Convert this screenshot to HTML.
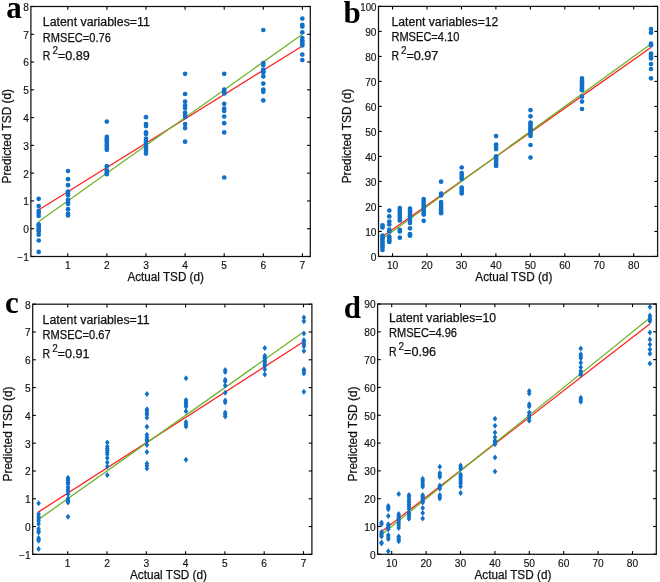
<!DOCTYPE html>
<html><head><meta charset="utf-8"><style>
html,body{margin:0;padding:0;background:#fff;}
svg{display:block;}
.t{font-family:"Liberation Sans", sans-serif;font-size:10.2px;fill:#111;stroke:#111;stroke-width:0.15px;}
.l{font-family:"Liberation Sans", sans-serif;font-size:12px;fill:#111;stroke:#111;stroke-width:0.25px;}
.s{font-family:"Liberation Sans", sans-serif;font-size:10px;fill:#111;stroke:#111;stroke-width:0.2px;}
.p{font-family:"Liberation Serif", serif;font-weight:bold;font-size:31px;fill:#000;}
</style></head><body>
<svg width="660" height="582" viewBox="0 0 660 582">
<rect width="660" height="582" fill="#fff"/>
<line x1="38.48" y1="210.00" x2="302.40" y2="45.93" stroke="#ff1f1f" stroke-width="1.3"/>
<line x1="38.48" y1="221.78" x2="302.40" y2="34.26" stroke="#6fb52a" stroke-width="1.3"/>
<circle cx="38.7" cy="198.8" r="2.35" fill="#1170c8"/>
<circle cx="38.7" cy="206.1" r="2.35" fill="#1170c8"/>
<circle cx="38.7" cy="210.9" r="2.35" fill="#1170c8"/>
<circle cx="38.7" cy="213.0" r="2.35" fill="#1170c8"/>
<circle cx="38.7" cy="216.0" r="2.35" fill="#1170c8"/>
<circle cx="38.7" cy="224.3" r="2.35" fill="#1170c8"/>
<circle cx="38.7" cy="226.0" r="2.35" fill="#1170c8"/>
<circle cx="38.7" cy="228.1" r="2.35" fill="#1170c8"/>
<circle cx="38.7" cy="229.8" r="2.35" fill="#1170c8"/>
<circle cx="38.7" cy="231.5" r="2.35" fill="#1170c8"/>
<circle cx="38.7" cy="234.7" r="2.35" fill="#1170c8"/>
<circle cx="38.7" cy="240.5" r="2.35" fill="#1170c8"/>
<circle cx="38.7" cy="251.9" r="2.35" fill="#1170c8"/>
<circle cx="68.0" cy="171.0" r="2.35" fill="#1170c8"/>
<circle cx="68.0" cy="179.2" r="2.35" fill="#1170c8"/>
<circle cx="68.0" cy="185.2" r="2.35" fill="#1170c8"/>
<circle cx="68.0" cy="191.5" r="2.35" fill="#1170c8"/>
<circle cx="68.0" cy="193.4" r="2.35" fill="#1170c8"/>
<circle cx="68.0" cy="195.3" r="2.35" fill="#1170c8"/>
<circle cx="68.0" cy="199.9" r="2.35" fill="#1170c8"/>
<circle cx="68.0" cy="202.7" r="2.35" fill="#1170c8"/>
<circle cx="68.0" cy="203.9" r="2.35" fill="#1170c8"/>
<circle cx="68.0" cy="209.2" r="2.35" fill="#1170c8"/>
<circle cx="68.0" cy="213.5" r="2.35" fill="#1170c8"/>
<circle cx="68.0" cy="215.5" r="2.35" fill="#1170c8"/>
<circle cx="106.8" cy="121.6" r="2.35" fill="#1170c8"/>
<circle cx="106.8" cy="136.9" r="2.35" fill="#1170c8"/>
<circle cx="106.8" cy="139.2" r="2.35" fill="#1170c8"/>
<circle cx="106.8" cy="141.2" r="2.35" fill="#1170c8"/>
<circle cx="106.8" cy="143.8" r="2.35" fill="#1170c8"/>
<circle cx="106.8" cy="145.5" r="2.35" fill="#1170c8"/>
<circle cx="106.8" cy="147.8" r="2.35" fill="#1170c8"/>
<circle cx="106.8" cy="149.8" r="2.35" fill="#1170c8"/>
<circle cx="106.8" cy="166.2" r="2.35" fill="#1170c8"/>
<circle cx="106.8" cy="170.4" r="2.35" fill="#1170c8"/>
<circle cx="106.8" cy="172.2" r="2.35" fill="#1170c8"/>
<circle cx="106.8" cy="174.2" r="2.35" fill="#1170c8"/>
<circle cx="146.0" cy="117.2" r="2.35" fill="#1170c8"/>
<circle cx="146.0" cy="124.0" r="2.35" fill="#1170c8"/>
<circle cx="146.0" cy="126.1" r="2.35" fill="#1170c8"/>
<circle cx="146.0" cy="132.3" r="2.35" fill="#1170c8"/>
<circle cx="146.0" cy="134.0" r="2.35" fill="#1170c8"/>
<circle cx="146.0" cy="138.7" r="2.35" fill="#1170c8"/>
<circle cx="146.0" cy="141.2" r="2.35" fill="#1170c8"/>
<circle cx="146.0" cy="143.8" r="2.35" fill="#1170c8"/>
<circle cx="146.0" cy="146.4" r="2.35" fill="#1170c8"/>
<circle cx="146.0" cy="149.0" r="2.35" fill="#1170c8"/>
<circle cx="146.0" cy="150.7" r="2.35" fill="#1170c8"/>
<circle cx="146.0" cy="153.6" r="2.35" fill="#1170c8"/>
<circle cx="185.1" cy="73.8" r="2.35" fill="#1170c8"/>
<circle cx="185.1" cy="94.0" r="2.35" fill="#1170c8"/>
<circle cx="185.1" cy="101.7" r="2.35" fill="#1170c8"/>
<circle cx="185.1" cy="105.5" r="2.35" fill="#1170c8"/>
<circle cx="185.1" cy="108.0" r="2.35" fill="#1170c8"/>
<circle cx="185.1" cy="112.5" r="2.35" fill="#1170c8"/>
<circle cx="185.1" cy="115.0" r="2.35" fill="#1170c8"/>
<circle cx="185.1" cy="117.0" r="2.35" fill="#1170c8"/>
<circle cx="185.1" cy="124.0" r="2.35" fill="#1170c8"/>
<circle cx="185.1" cy="128.1" r="2.35" fill="#1170c8"/>
<circle cx="185.1" cy="141.7" r="2.35" fill="#1170c8"/>
<circle cx="224.2" cy="73.8" r="2.35" fill="#1170c8"/>
<circle cx="224.2" cy="89.5" r="2.35" fill="#1170c8"/>
<circle cx="224.2" cy="91.5" r="2.35" fill="#1170c8"/>
<circle cx="224.2" cy="93.5" r="2.35" fill="#1170c8"/>
<circle cx="224.2" cy="103.8" r="2.35" fill="#1170c8"/>
<circle cx="224.2" cy="108.5" r="2.35" fill="#1170c8"/>
<circle cx="224.2" cy="111.0" r="2.35" fill="#1170c8"/>
<circle cx="224.2" cy="116.5" r="2.35" fill="#1170c8"/>
<circle cx="224.2" cy="123.2" r="2.35" fill="#1170c8"/>
<circle cx="224.2" cy="132.4" r="2.35" fill="#1170c8"/>
<circle cx="224.2" cy="177.5" r="2.35" fill="#1170c8"/>
<circle cx="263.3" cy="30.0" r="2.35" fill="#1170c8"/>
<circle cx="263.3" cy="63.0" r="2.35" fill="#1170c8"/>
<circle cx="263.3" cy="65.0" r="2.35" fill="#1170c8"/>
<circle cx="263.3" cy="69.5" r="2.35" fill="#1170c8"/>
<circle cx="263.3" cy="71.2" r="2.35" fill="#1170c8"/>
<circle cx="263.3" cy="72.4" r="2.35" fill="#1170c8"/>
<circle cx="263.3" cy="76.4" r="2.35" fill="#1170c8"/>
<circle cx="263.3" cy="83.6" r="2.35" fill="#1170c8"/>
<circle cx="263.3" cy="89.6" r="2.35" fill="#1170c8"/>
<circle cx="263.3" cy="91.8" r="2.35" fill="#1170c8"/>
<circle cx="263.3" cy="100.4" r="2.35" fill="#1170c8"/>
<circle cx="302.3" cy="18.6" r="2.35" fill="#1170c8"/>
<circle cx="302.3" cy="24.9" r="2.35" fill="#1170c8"/>
<circle cx="302.3" cy="26.6" r="2.35" fill="#1170c8"/>
<circle cx="302.3" cy="32.3" r="2.35" fill="#1170c8"/>
<circle cx="302.3" cy="38.1" r="2.35" fill="#1170c8"/>
<circle cx="302.3" cy="40.4" r="2.35" fill="#1170c8"/>
<circle cx="302.3" cy="42.1" r="2.35" fill="#1170c8"/>
<circle cx="302.3" cy="43.8" r="2.35" fill="#1170c8"/>
<circle cx="302.3" cy="45.5" r="2.35" fill="#1170c8"/>
<circle cx="302.3" cy="54.6" r="2.35" fill="#1170c8"/>
<circle cx="302.3" cy="60.1" r="2.35" fill="#1170c8"/>
<rect x="30.9" y="6.5" width="279.40000000000003" height="250.0" fill="none" stroke="#111" stroke-width="1.25"/>
<line x1="67.80" y1="256.5" x2="67.80" y2="253.3" stroke="#000" stroke-width="1.1"/>
<line x1="67.80" y1="6.5" x2="67.80" y2="9.7" stroke="#000" stroke-width="1.1"/>
<line x1="106.90" y1="256.5" x2="106.90" y2="253.3" stroke="#000" stroke-width="1.1"/>
<line x1="106.90" y1="6.5" x2="106.90" y2="9.7" stroke="#000" stroke-width="1.1"/>
<line x1="146.00" y1="256.5" x2="146.00" y2="253.3" stroke="#000" stroke-width="1.1"/>
<line x1="146.00" y1="6.5" x2="146.00" y2="9.7" stroke="#000" stroke-width="1.1"/>
<line x1="185.10" y1="256.5" x2="185.10" y2="253.3" stroke="#000" stroke-width="1.1"/>
<line x1="185.10" y1="6.5" x2="185.10" y2="9.7" stroke="#000" stroke-width="1.1"/>
<line x1="224.20" y1="256.5" x2="224.20" y2="253.3" stroke="#000" stroke-width="1.1"/>
<line x1="224.20" y1="6.5" x2="224.20" y2="9.7" stroke="#000" stroke-width="1.1"/>
<line x1="263.30" y1="256.5" x2="263.30" y2="253.3" stroke="#000" stroke-width="1.1"/>
<line x1="263.30" y1="6.5" x2="263.30" y2="9.7" stroke="#000" stroke-width="1.1"/>
<line x1="302.40" y1="256.5" x2="302.40" y2="253.3" stroke="#000" stroke-width="1.1"/>
<line x1="302.40" y1="6.5" x2="302.40" y2="9.7" stroke="#000" stroke-width="1.1"/>
<line x1="30.9" y1="256.50" x2="34.1" y2="256.50" stroke="#000" stroke-width="1.1"/>
<line x1="310.3" y1="256.50" x2="307.1" y2="256.50" stroke="#000" stroke-width="1.1"/>
<line x1="30.9" y1="228.72" x2="34.1" y2="228.72" stroke="#000" stroke-width="1.1"/>
<line x1="310.3" y1="228.72" x2="307.1" y2="228.72" stroke="#000" stroke-width="1.1"/>
<line x1="30.9" y1="200.94" x2="34.1" y2="200.94" stroke="#000" stroke-width="1.1"/>
<line x1="310.3" y1="200.94" x2="307.1" y2="200.94" stroke="#000" stroke-width="1.1"/>
<line x1="30.9" y1="173.16" x2="34.1" y2="173.16" stroke="#000" stroke-width="1.1"/>
<line x1="310.3" y1="173.16" x2="307.1" y2="173.16" stroke="#000" stroke-width="1.1"/>
<line x1="30.9" y1="145.38" x2="34.1" y2="145.38" stroke="#000" stroke-width="1.1"/>
<line x1="310.3" y1="145.38" x2="307.1" y2="145.38" stroke="#000" stroke-width="1.1"/>
<line x1="30.9" y1="117.60" x2="34.1" y2="117.60" stroke="#000" stroke-width="1.1"/>
<line x1="310.3" y1="117.60" x2="307.1" y2="117.60" stroke="#000" stroke-width="1.1"/>
<line x1="30.9" y1="89.82" x2="34.1" y2="89.82" stroke="#000" stroke-width="1.1"/>
<line x1="310.3" y1="89.82" x2="307.1" y2="89.82" stroke="#000" stroke-width="1.1"/>
<line x1="30.9" y1="62.04" x2="34.1" y2="62.04" stroke="#000" stroke-width="1.1"/>
<line x1="310.3" y1="62.04" x2="307.1" y2="62.04" stroke="#000" stroke-width="1.1"/>
<line x1="30.9" y1="34.26" x2="34.1" y2="34.26" stroke="#000" stroke-width="1.1"/>
<line x1="310.3" y1="34.26" x2="307.1" y2="34.26" stroke="#000" stroke-width="1.1"/>
<line x1="30.9" y1="6.48" x2="34.1" y2="6.48" stroke="#000" stroke-width="1.1"/>
<line x1="310.3" y1="6.48" x2="307.1" y2="6.48" stroke="#000" stroke-width="1.1"/>
<line x1="382.22" y1="236.70" x2="650.92" y2="47.41" stroke="#ff1f1f" stroke-width="1.3"/>
<line x1="382.22" y1="238.95" x2="650.92" y2="43.91" stroke="#6fb52a" stroke-width="1.3"/>
<circle cx="382.5" cy="225.3" r="2.35" fill="#1170c8"/>
<circle cx="382.5" cy="227.5" r="2.35" fill="#1170c8"/>
<circle cx="382.5" cy="235.5" r="2.35" fill="#1170c8"/>
<circle cx="382.5" cy="237.5" r="2.35" fill="#1170c8"/>
<circle cx="382.5" cy="239.5" r="2.35" fill="#1170c8"/>
<circle cx="382.5" cy="241.5" r="2.35" fill="#1170c8"/>
<circle cx="382.5" cy="243.5" r="2.35" fill="#1170c8"/>
<circle cx="382.5" cy="245.5" r="2.35" fill="#1170c8"/>
<circle cx="382.5" cy="247.5" r="2.35" fill="#1170c8"/>
<circle cx="382.5" cy="250.0" r="2.35" fill="#1170c8"/>
<circle cx="389.3" cy="210.6" r="2.35" fill="#1170c8"/>
<circle cx="389.3" cy="216.4" r="2.35" fill="#1170c8"/>
<circle cx="389.3" cy="221.5" r="2.35" fill="#1170c8"/>
<circle cx="389.3" cy="224.5" r="2.35" fill="#1170c8"/>
<circle cx="389.3" cy="229.5" r="2.35" fill="#1170c8"/>
<circle cx="389.3" cy="231.5" r="2.35" fill="#1170c8"/>
<circle cx="389.3" cy="236.5" r="2.35" fill="#1170c8"/>
<circle cx="389.3" cy="238.5" r="2.35" fill="#1170c8"/>
<circle cx="389.3" cy="240.5" r="2.35" fill="#1170c8"/>
<circle cx="389.3" cy="242.0" r="2.35" fill="#1170c8"/>
<circle cx="399.8" cy="208.0" r="2.35" fill="#1170c8"/>
<circle cx="399.8" cy="210.0" r="2.35" fill="#1170c8"/>
<circle cx="399.8" cy="212.0" r="2.35" fill="#1170c8"/>
<circle cx="399.8" cy="214.0" r="2.35" fill="#1170c8"/>
<circle cx="399.8" cy="216.0" r="2.35" fill="#1170c8"/>
<circle cx="399.8" cy="218.0" r="2.35" fill="#1170c8"/>
<circle cx="399.8" cy="220.5" r="2.35" fill="#1170c8"/>
<circle cx="399.8" cy="229.8" r="2.35" fill="#1170c8"/>
<circle cx="399.8" cy="231.5" r="2.35" fill="#1170c8"/>
<circle cx="399.8" cy="237.7" r="2.35" fill="#1170c8"/>
<circle cx="410.0" cy="208.5" r="2.35" fill="#1170c8"/>
<circle cx="410.0" cy="210.5" r="2.35" fill="#1170c8"/>
<circle cx="410.0" cy="212.5" r="2.35" fill="#1170c8"/>
<circle cx="410.0" cy="214.5" r="2.35" fill="#1170c8"/>
<circle cx="410.0" cy="216.5" r="2.35" fill="#1170c8"/>
<circle cx="410.0" cy="218.5" r="2.35" fill="#1170c8"/>
<circle cx="410.0" cy="220.5" r="2.35" fill="#1170c8"/>
<circle cx="410.0" cy="223.0" r="2.35" fill="#1170c8"/>
<circle cx="410.0" cy="228.3" r="2.35" fill="#1170c8"/>
<circle cx="410.0" cy="234.2" r="2.35" fill="#1170c8"/>
<circle cx="410.0" cy="235.7" r="2.35" fill="#1170c8"/>
<circle cx="423.7" cy="199.0" r="2.35" fill="#1170c8"/>
<circle cx="423.7" cy="201.0" r="2.35" fill="#1170c8"/>
<circle cx="423.7" cy="203.0" r="2.35" fill="#1170c8"/>
<circle cx="423.7" cy="205.0" r="2.35" fill="#1170c8"/>
<circle cx="423.7" cy="207.0" r="2.35" fill="#1170c8"/>
<circle cx="423.7" cy="209.0" r="2.35" fill="#1170c8"/>
<circle cx="423.7" cy="211.0" r="2.35" fill="#1170c8"/>
<circle cx="423.7" cy="213.0" r="2.35" fill="#1170c8"/>
<circle cx="423.7" cy="214.6" r="2.35" fill="#1170c8"/>
<circle cx="423.7" cy="220.8" r="2.35" fill="#1170c8"/>
<circle cx="441.1" cy="181.7" r="2.35" fill="#1170c8"/>
<circle cx="441.1" cy="193.5" r="2.35" fill="#1170c8"/>
<circle cx="441.1" cy="195.5" r="2.35" fill="#1170c8"/>
<circle cx="441.1" cy="202.0" r="2.35" fill="#1170c8"/>
<circle cx="441.1" cy="204.0" r="2.35" fill="#1170c8"/>
<circle cx="441.1" cy="206.0" r="2.35" fill="#1170c8"/>
<circle cx="441.1" cy="208.0" r="2.35" fill="#1170c8"/>
<circle cx="441.1" cy="210.0" r="2.35" fill="#1170c8"/>
<circle cx="441.1" cy="212.0" r="2.35" fill="#1170c8"/>
<circle cx="441.1" cy="213.2" r="2.35" fill="#1170c8"/>
<circle cx="461.7" cy="167.5" r="2.35" fill="#1170c8"/>
<circle cx="461.7" cy="173.0" r="2.35" fill="#1170c8"/>
<circle cx="461.7" cy="175.0" r="2.35" fill="#1170c8"/>
<circle cx="461.7" cy="177.0" r="2.35" fill="#1170c8"/>
<circle cx="461.7" cy="179.0" r="2.35" fill="#1170c8"/>
<circle cx="461.7" cy="187.5" r="2.35" fill="#1170c8"/>
<circle cx="461.7" cy="189.5" r="2.35" fill="#1170c8"/>
<circle cx="461.7" cy="191.5" r="2.35" fill="#1170c8"/>
<circle cx="461.7" cy="193.5" r="2.35" fill="#1170c8"/>
<circle cx="496.1" cy="136.1" r="2.35" fill="#1170c8"/>
<circle cx="496.1" cy="144.5" r="2.35" fill="#1170c8"/>
<circle cx="496.1" cy="147.0" r="2.35" fill="#1170c8"/>
<circle cx="496.1" cy="149.1" r="2.35" fill="#1170c8"/>
<circle cx="496.1" cy="156.3" r="2.35" fill="#1170c8"/>
<circle cx="496.1" cy="158.1" r="2.35" fill="#1170c8"/>
<circle cx="496.1" cy="160.0" r="2.35" fill="#1170c8"/>
<circle cx="496.1" cy="162.0" r="2.35" fill="#1170c8"/>
<circle cx="496.1" cy="164.0" r="2.35" fill="#1170c8"/>
<circle cx="496.1" cy="165.9" r="2.35" fill="#1170c8"/>
<circle cx="530.5" cy="110.1" r="2.35" fill="#1170c8"/>
<circle cx="530.5" cy="116.3" r="2.35" fill="#1170c8"/>
<circle cx="530.5" cy="122.5" r="2.35" fill="#1170c8"/>
<circle cx="530.5" cy="124.4" r="2.35" fill="#1170c8"/>
<circle cx="530.5" cy="126.4" r="2.35" fill="#1170c8"/>
<circle cx="530.5" cy="128.4" r="2.35" fill="#1170c8"/>
<circle cx="530.5" cy="130.2" r="2.35" fill="#1170c8"/>
<circle cx="530.5" cy="132.1" r="2.35" fill="#1170c8"/>
<circle cx="530.5" cy="134.1" r="2.35" fill="#1170c8"/>
<circle cx="530.5" cy="136.0" r="2.35" fill="#1170c8"/>
<circle cx="530.5" cy="145.0" r="2.35" fill="#1170c8"/>
<circle cx="530.5" cy="157.6" r="2.35" fill="#1170c8"/>
<circle cx="582.0" cy="78.4" r="2.35" fill="#1170c8"/>
<circle cx="582.0" cy="80.4" r="2.35" fill="#1170c8"/>
<circle cx="582.0" cy="82.4" r="2.35" fill="#1170c8"/>
<circle cx="582.0" cy="84.3" r="2.35" fill="#1170c8"/>
<circle cx="582.0" cy="86.3" r="2.35" fill="#1170c8"/>
<circle cx="582.0" cy="88.2" r="2.35" fill="#1170c8"/>
<circle cx="582.0" cy="90.2" r="2.35" fill="#1170c8"/>
<circle cx="582.0" cy="96.7" r="2.35" fill="#1170c8"/>
<circle cx="582.0" cy="101.6" r="2.35" fill="#1170c8"/>
<circle cx="582.0" cy="109.0" r="2.35" fill="#1170c8"/>
<circle cx="651.0" cy="29.0" r="2.35" fill="#1170c8"/>
<circle cx="651.0" cy="32.7" r="2.35" fill="#1170c8"/>
<circle cx="651.0" cy="43.7" r="2.35" fill="#1170c8"/>
<circle cx="651.0" cy="45.3" r="2.35" fill="#1170c8"/>
<circle cx="651.0" cy="53.5" r="2.35" fill="#1170c8"/>
<circle cx="651.0" cy="55.1" r="2.35" fill="#1170c8"/>
<circle cx="651.0" cy="56.7" r="2.35" fill="#1170c8"/>
<circle cx="651.0" cy="58.4" r="2.35" fill="#1170c8"/>
<circle cx="651.0" cy="64.1" r="2.35" fill="#1170c8"/>
<circle cx="651.0" cy="69.0" r="2.35" fill="#1170c8"/>
<circle cx="651.0" cy="78.3" r="2.35" fill="#1170c8"/>
<rect x="378.5" y="6.4" width="279.1" height="250.04999999999998" fill="none" stroke="#111" stroke-width="1.25"/>
<line x1="392.55" y1="256.45" x2="392.55" y2="253.25" stroke="#000" stroke-width="1.1"/>
<line x1="392.55" y1="6.4" x2="392.55" y2="9.600000000000001" stroke="#000" stroke-width="1.1"/>
<line x1="427.00" y1="256.45" x2="427.00" y2="253.25" stroke="#000" stroke-width="1.1"/>
<line x1="427.00" y1="6.4" x2="427.00" y2="9.600000000000001" stroke="#000" stroke-width="1.1"/>
<line x1="461.45" y1="256.45" x2="461.45" y2="253.25" stroke="#000" stroke-width="1.1"/>
<line x1="461.45" y1="6.4" x2="461.45" y2="9.600000000000001" stroke="#000" stroke-width="1.1"/>
<line x1="495.90" y1="256.45" x2="495.90" y2="253.25" stroke="#000" stroke-width="1.1"/>
<line x1="495.90" y1="6.4" x2="495.90" y2="9.600000000000001" stroke="#000" stroke-width="1.1"/>
<line x1="530.35" y1="256.45" x2="530.35" y2="253.25" stroke="#000" stroke-width="1.1"/>
<line x1="530.35" y1="6.4" x2="530.35" y2="9.600000000000001" stroke="#000" stroke-width="1.1"/>
<line x1="564.80" y1="256.45" x2="564.80" y2="253.25" stroke="#000" stroke-width="1.1"/>
<line x1="564.80" y1="6.4" x2="564.80" y2="9.600000000000001" stroke="#000" stroke-width="1.1"/>
<line x1="599.25" y1="256.45" x2="599.25" y2="253.25" stroke="#000" stroke-width="1.1"/>
<line x1="599.25" y1="6.4" x2="599.25" y2="9.600000000000001" stroke="#000" stroke-width="1.1"/>
<line x1="633.70" y1="256.45" x2="633.70" y2="253.25" stroke="#000" stroke-width="1.1"/>
<line x1="633.70" y1="6.4" x2="633.70" y2="9.600000000000001" stroke="#000" stroke-width="1.1"/>
<line x1="378.5" y1="256.45" x2="381.7" y2="256.45" stroke="#000" stroke-width="1.1"/>
<line x1="657.6" y1="256.45" x2="654.4" y2="256.45" stroke="#000" stroke-width="1.1"/>
<line x1="378.5" y1="231.44" x2="381.7" y2="231.44" stroke="#000" stroke-width="1.1"/>
<line x1="657.6" y1="231.44" x2="654.4" y2="231.44" stroke="#000" stroke-width="1.1"/>
<line x1="378.5" y1="206.44" x2="381.7" y2="206.44" stroke="#000" stroke-width="1.1"/>
<line x1="657.6" y1="206.44" x2="654.4" y2="206.44" stroke="#000" stroke-width="1.1"/>
<line x1="378.5" y1="181.44" x2="381.7" y2="181.44" stroke="#000" stroke-width="1.1"/>
<line x1="657.6" y1="181.44" x2="654.4" y2="181.44" stroke="#000" stroke-width="1.1"/>
<line x1="378.5" y1="156.43" x2="381.7" y2="156.43" stroke="#000" stroke-width="1.1"/>
<line x1="657.6" y1="156.43" x2="654.4" y2="156.43" stroke="#000" stroke-width="1.1"/>
<line x1="378.5" y1="131.42" x2="381.7" y2="131.42" stroke="#000" stroke-width="1.1"/>
<line x1="657.6" y1="131.42" x2="654.4" y2="131.42" stroke="#000" stroke-width="1.1"/>
<line x1="378.5" y1="106.42" x2="381.7" y2="106.42" stroke="#000" stroke-width="1.1"/>
<line x1="657.6" y1="106.42" x2="654.4" y2="106.42" stroke="#000" stroke-width="1.1"/>
<line x1="378.5" y1="81.41" x2="381.7" y2="81.41" stroke="#000" stroke-width="1.1"/>
<line x1="657.6" y1="81.41" x2="654.4" y2="81.41" stroke="#000" stroke-width="1.1"/>
<line x1="378.5" y1="56.41" x2="381.7" y2="56.41" stroke="#000" stroke-width="1.1"/>
<line x1="657.6" y1="56.41" x2="654.4" y2="56.41" stroke="#000" stroke-width="1.1"/>
<line x1="378.5" y1="31.40" x2="381.7" y2="31.40" stroke="#000" stroke-width="1.1"/>
<line x1="657.6" y1="31.40" x2="654.4" y2="31.40" stroke="#000" stroke-width="1.1"/>
<line x1="378.5" y1="6.40" x2="381.7" y2="6.40" stroke="#000" stroke-width="1.1"/>
<line x1="657.6" y1="6.40" x2="654.4" y2="6.40" stroke="#000" stroke-width="1.1"/>
<line x1="38.22" y1="512.10" x2="303.50" y2="341.73" stroke="#ff1f1f" stroke-width="1.3"/>
<line x1="38.22" y1="519.61" x2="303.50" y2="332.00" stroke="#6fb52a" stroke-width="1.3"/>
<path d="M38.6 500.2L40.9 503.2L38.6 506.2L36.3 503.2Z" fill="#1170c8"/>
<path d="M38.6 511.1L40.9 514.1L38.6 517.1L36.3 514.1Z" fill="#1170c8"/>
<path d="M38.6 513.4L40.9 516.4L38.6 519.4L36.3 516.4Z" fill="#1170c8"/>
<path d="M38.6 515.7L40.9 518.7L38.6 521.7L36.3 518.7Z" fill="#1170c8"/>
<path d="M38.6 518.0L40.9 521.0L38.6 524.0L36.3 521.0Z" fill="#1170c8"/>
<path d="M38.6 521.1L40.9 524.1L38.6 527.1L36.3 524.1Z" fill="#1170c8"/>
<path d="M38.6 525.8L40.9 528.8L38.6 531.8L36.3 528.8Z" fill="#1170c8"/>
<path d="M38.6 528.1L40.9 531.1L38.6 534.1L36.3 531.1Z" fill="#1170c8"/>
<path d="M38.6 529.6L40.9 532.6L38.6 535.6L36.3 532.6Z" fill="#1170c8"/>
<path d="M38.6 535.0L40.9 538.0L38.6 541.0L36.3 538.0Z" fill="#1170c8"/>
<path d="M38.6 536.6L40.9 539.6L38.6 542.6L36.3 539.6Z" fill="#1170c8"/>
<path d="M38.6 537.8L40.9 540.8L38.6 543.8L36.3 540.8Z" fill="#1170c8"/>
<path d="M38.6 545.9L40.9 548.9L38.6 551.9L36.3 548.9Z" fill="#1170c8"/>
<path d="M68.0 474.7L70.3 477.7L68.0 480.7L65.7 477.7Z" fill="#1170c8"/>
<path d="M68.0 476.3L70.3 479.3L68.0 482.3L65.7 479.3Z" fill="#1170c8"/>
<path d="M68.0 477.8L70.3 480.8L68.0 483.8L65.7 480.8Z" fill="#1170c8"/>
<path d="M68.0 479.4L70.3 482.4L68.0 485.4L65.7 482.4Z" fill="#1170c8"/>
<path d="M68.0 480.9L70.3 483.9L68.0 486.9L65.7 483.9Z" fill="#1170c8"/>
<path d="M68.0 484.0L70.3 487.0L68.0 490.0L65.7 487.0Z" fill="#1170c8"/>
<path d="M68.0 486.3L70.3 489.3L68.0 492.3L65.7 489.3Z" fill="#1170c8"/>
<path d="M68.0 488.6L70.3 491.6L68.0 494.6L65.7 491.6Z" fill="#1170c8"/>
<path d="M68.0 491.0L70.3 494.0L68.0 497.0L65.7 494.0Z" fill="#1170c8"/>
<path d="M68.0 495.6L70.3 498.6L68.0 501.6L65.7 498.6Z" fill="#1170c8"/>
<path d="M68.0 497.2L70.3 500.2L68.0 503.2L65.7 500.2Z" fill="#1170c8"/>
<path d="M68.0 498.7L70.3 501.7L68.0 504.7L65.7 501.7Z" fill="#1170c8"/>
<path d="M68.0 499.5L70.3 502.5L68.0 505.5L65.7 502.5Z" fill="#1170c8"/>
<path d="M68.0 513.7L70.3 516.7L68.0 519.7L65.7 516.7Z" fill="#1170c8"/>
<path d="M107.3 439.6L109.6 442.6L107.3 445.6L105.0 442.6Z" fill="#1170c8"/>
<path d="M107.3 443.4L109.6 446.4L107.3 449.4L105.0 446.4Z" fill="#1170c8"/>
<path d="M107.3 445.5L109.6 448.5L107.3 451.5L105.0 448.5Z" fill="#1170c8"/>
<path d="M107.3 447.3L109.6 450.3L107.3 453.3L105.0 450.3Z" fill="#1170c8"/>
<path d="M107.3 449.2L109.6 452.2L107.3 455.2L105.0 452.2Z" fill="#1170c8"/>
<path d="M107.3 451.2L109.6 454.2L107.3 457.2L105.0 454.2Z" fill="#1170c8"/>
<path d="M107.3 455.0L109.6 458.0L107.3 461.0L105.0 458.0Z" fill="#1170c8"/>
<path d="M107.3 459.4L109.6 462.4L107.3 465.4L105.0 462.4Z" fill="#1170c8"/>
<path d="M107.3 463.5L109.6 466.5L107.3 469.5L105.0 466.5Z" fill="#1170c8"/>
<path d="M107.3 472.0L109.6 475.0L107.3 478.0L105.0 475.0Z" fill="#1170c8"/>
<path d="M146.9 390.9L149.2 393.9L146.9 396.9L144.6 393.9Z" fill="#1170c8"/>
<path d="M146.9 406.3L149.2 409.3L146.9 412.3L144.6 409.3Z" fill="#1170c8"/>
<path d="M146.9 407.9L149.2 410.9L146.9 413.9L144.6 410.9Z" fill="#1170c8"/>
<path d="M146.9 409.9L149.2 412.9L146.9 415.9L144.6 412.9Z" fill="#1170c8"/>
<path d="M146.9 411.7L149.2 414.7L146.9 417.7L144.6 414.7Z" fill="#1170c8"/>
<path d="M146.9 414.8L149.2 417.8L146.9 420.8L144.6 417.8Z" fill="#1170c8"/>
<path d="M146.9 423.8L149.2 426.8L146.9 429.8L144.6 426.8Z" fill="#1170c8"/>
<path d="M146.9 431.8L149.2 434.8L146.9 437.8L144.6 434.8Z" fill="#1170c8"/>
<path d="M146.9 434.2L149.2 437.2L146.9 440.2L144.6 437.2Z" fill="#1170c8"/>
<path d="M146.9 436.5L149.2 439.5L146.9 442.5L144.6 439.5Z" fill="#1170c8"/>
<path d="M146.9 438.0L149.2 441.0L146.9 444.0L144.6 441.0Z" fill="#1170c8"/>
<path d="M146.9 441.9L149.2 444.9L146.9 447.9L144.6 444.9Z" fill="#1170c8"/>
<path d="M146.9 448.9L149.2 451.9L146.9 454.9L144.6 451.9Z" fill="#1170c8"/>
<path d="M146.9 460.4L149.2 463.4L146.9 466.4L144.6 463.4Z" fill="#1170c8"/>
<path d="M146.9 462.8L149.2 465.8L146.9 468.8L144.6 465.8Z" fill="#1170c8"/>
<path d="M146.9 465.6L149.2 468.6L146.9 471.6L144.6 468.6Z" fill="#1170c8"/>
<path d="M186.0 375.2L188.3 378.2L186.0 381.2L183.7 378.2Z" fill="#1170c8"/>
<path d="M186.0 396.9L188.3 399.9L186.0 402.9L183.7 399.9Z" fill="#1170c8"/>
<path d="M186.0 398.8L188.3 401.8L186.0 404.8L183.7 401.8Z" fill="#1170c8"/>
<path d="M186.0 400.6L188.3 403.6L186.0 406.6L183.7 403.6Z" fill="#1170c8"/>
<path d="M186.0 402.2L188.3 405.2L186.0 408.2L183.7 405.2Z" fill="#1170c8"/>
<path d="M186.0 403.7L188.3 406.7L186.0 409.7L183.7 406.7Z" fill="#1170c8"/>
<path d="M186.0 408.3L188.3 411.3L186.0 414.3L183.7 411.3Z" fill="#1170c8"/>
<path d="M186.0 418.9L188.3 421.9L186.0 424.9L183.7 421.9Z" fill="#1170c8"/>
<path d="M186.0 421.2L188.3 424.2L186.0 427.2L183.7 424.2Z" fill="#1170c8"/>
<path d="M186.0 423.5L188.3 426.5L186.0 429.5L183.7 426.5Z" fill="#1170c8"/>
<path d="M186.0 456.8L188.3 459.8L186.0 462.8L183.7 459.8Z" fill="#1170c8"/>
<path d="M225.2 367.1L227.5 370.1L225.2 373.1L222.9 370.1Z" fill="#1170c8"/>
<path d="M225.2 369.1L227.5 372.1L225.2 375.1L222.9 372.1Z" fill="#1170c8"/>
<path d="M225.2 376.8L227.5 379.8L225.2 382.8L222.9 379.8Z" fill="#1170c8"/>
<path d="M225.2 378.6L227.5 381.6L225.2 384.6L222.9 381.6Z" fill="#1170c8"/>
<path d="M225.2 382.5L227.5 385.5L225.2 388.5L222.9 385.5Z" fill="#1170c8"/>
<path d="M225.2 389.8L227.5 392.8L225.2 395.8L222.9 392.8Z" fill="#1170c8"/>
<path d="M225.2 397.5L227.5 400.5L225.2 403.5L222.9 400.5Z" fill="#1170c8"/>
<path d="M225.2 399.5L227.5 402.5L225.2 405.5L222.9 402.5Z" fill="#1170c8"/>
<path d="M225.2 409.6L227.5 412.6L225.2 415.6L222.9 412.6Z" fill="#1170c8"/>
<path d="M225.2 411.4L227.5 414.4L225.2 417.4L222.9 414.4Z" fill="#1170c8"/>
<path d="M225.2 413.4L227.5 416.4L225.2 419.4L222.9 416.4Z" fill="#1170c8"/>
<path d="M264.8 345.0L267.1 348.0L264.8 351.0L262.5 348.0Z" fill="#1170c8"/>
<path d="M264.8 352.7L267.1 355.7L264.8 358.7L262.5 355.7Z" fill="#1170c8"/>
<path d="M264.8 354.4L267.1 357.4L264.8 360.4L262.5 357.4Z" fill="#1170c8"/>
<path d="M264.8 356.1L267.1 359.1L264.8 362.1L262.5 359.1Z" fill="#1170c8"/>
<path d="M264.8 357.8L267.1 360.8L264.8 363.8L262.5 360.8Z" fill="#1170c8"/>
<path d="M264.8 359.6L267.1 362.6L264.8 365.6L262.5 362.6Z" fill="#1170c8"/>
<path d="M264.8 361.3L267.1 364.3L264.8 367.3L262.5 364.3Z" fill="#1170c8"/>
<path d="M264.8 363.0L267.1 366.0L264.8 369.0L262.5 366.0Z" fill="#1170c8"/>
<path d="M264.8 366.4L267.1 369.4L264.8 372.4L262.5 369.4Z" fill="#1170c8"/>
<path d="M264.8 371.6L267.1 374.6L264.8 377.6L262.5 374.6Z" fill="#1170c8"/>
<path d="M303.9 314.4L306.2 317.4L303.9 320.4L301.6 317.4Z" fill="#1170c8"/>
<path d="M303.9 318.3L306.2 321.3L303.9 324.3L301.6 321.3Z" fill="#1170c8"/>
<path d="M303.9 330.4L306.2 333.4L303.9 336.4L301.6 333.4Z" fill="#1170c8"/>
<path d="M303.9 337.2L306.2 340.2L303.9 343.2L301.6 340.2Z" fill="#1170c8"/>
<path d="M303.9 338.9L306.2 341.9L303.9 344.9L301.6 341.9Z" fill="#1170c8"/>
<path d="M303.9 341.2L306.2 344.2L303.9 347.2L301.6 344.2Z" fill="#1170c8"/>
<path d="M303.9 343.2L306.2 346.2L303.9 349.2L301.6 346.2Z" fill="#1170c8"/>
<path d="M303.9 348.0L306.2 351.0L303.9 354.0L301.6 351.0Z" fill="#1170c8"/>
<path d="M303.9 366.4L306.2 369.4L303.9 372.4L301.6 369.4Z" fill="#1170c8"/>
<path d="M303.9 368.2L306.2 371.2L303.9 374.2L301.6 371.2Z" fill="#1170c8"/>
<path d="M303.9 370.4L306.2 373.4L303.9 376.4L301.6 373.4Z" fill="#1170c8"/>
<path d="M303.9 388.8L306.2 391.8L303.9 394.8L301.6 391.8Z" fill="#1170c8"/>
<rect x="32.7" y="304.2" width="279.2" height="250.15000000000003" fill="none" stroke="#111" stroke-width="1.25"/>
<line x1="67.70" y1="554.35" x2="67.70" y2="551.15" stroke="#000" stroke-width="1.1"/>
<line x1="67.70" y1="304.2" x2="67.70" y2="307.4" stroke="#000" stroke-width="1.1"/>
<line x1="107.00" y1="554.35" x2="107.00" y2="551.15" stroke="#000" stroke-width="1.1"/>
<line x1="107.00" y1="304.2" x2="107.00" y2="307.4" stroke="#000" stroke-width="1.1"/>
<line x1="146.30" y1="554.35" x2="146.30" y2="551.15" stroke="#000" stroke-width="1.1"/>
<line x1="146.30" y1="304.2" x2="146.30" y2="307.4" stroke="#000" stroke-width="1.1"/>
<line x1="185.60" y1="554.35" x2="185.60" y2="551.15" stroke="#000" stroke-width="1.1"/>
<line x1="185.60" y1="304.2" x2="185.60" y2="307.4" stroke="#000" stroke-width="1.1"/>
<line x1="224.90" y1="554.35" x2="224.90" y2="551.15" stroke="#000" stroke-width="1.1"/>
<line x1="224.90" y1="304.2" x2="224.90" y2="307.4" stroke="#000" stroke-width="1.1"/>
<line x1="264.20" y1="554.35" x2="264.20" y2="551.15" stroke="#000" stroke-width="1.1"/>
<line x1="264.20" y1="304.2" x2="264.20" y2="307.4" stroke="#000" stroke-width="1.1"/>
<line x1="303.50" y1="554.35" x2="303.50" y2="551.15" stroke="#000" stroke-width="1.1"/>
<line x1="303.50" y1="304.2" x2="303.50" y2="307.4" stroke="#000" stroke-width="1.1"/>
<line x1="32.7" y1="554.35" x2="35.900000000000006" y2="554.35" stroke="#000" stroke-width="1.1"/>
<line x1="311.9" y1="554.35" x2="308.7" y2="554.35" stroke="#000" stroke-width="1.1"/>
<line x1="32.7" y1="526.56" x2="35.900000000000006" y2="526.56" stroke="#000" stroke-width="1.1"/>
<line x1="311.9" y1="526.56" x2="308.7" y2="526.56" stroke="#000" stroke-width="1.1"/>
<line x1="32.7" y1="498.76" x2="35.900000000000006" y2="498.76" stroke="#000" stroke-width="1.1"/>
<line x1="311.9" y1="498.76" x2="308.7" y2="498.76" stroke="#000" stroke-width="1.1"/>
<line x1="32.7" y1="470.97" x2="35.900000000000006" y2="470.97" stroke="#000" stroke-width="1.1"/>
<line x1="311.9" y1="470.97" x2="308.7" y2="470.97" stroke="#000" stroke-width="1.1"/>
<line x1="32.7" y1="443.17" x2="35.900000000000006" y2="443.17" stroke="#000" stroke-width="1.1"/>
<line x1="311.9" y1="443.17" x2="308.7" y2="443.17" stroke="#000" stroke-width="1.1"/>
<line x1="32.7" y1="415.38" x2="35.900000000000006" y2="415.38" stroke="#000" stroke-width="1.1"/>
<line x1="311.9" y1="415.38" x2="308.7" y2="415.38" stroke="#000" stroke-width="1.1"/>
<line x1="32.7" y1="387.59" x2="35.900000000000006" y2="387.59" stroke="#000" stroke-width="1.1"/>
<line x1="311.9" y1="387.59" x2="308.7" y2="387.59" stroke="#000" stroke-width="1.1"/>
<line x1="32.7" y1="359.79" x2="35.900000000000006" y2="359.79" stroke="#000" stroke-width="1.1"/>
<line x1="311.9" y1="359.79" x2="308.7" y2="359.79" stroke="#000" stroke-width="1.1"/>
<line x1="32.7" y1="332.00" x2="35.900000000000006" y2="332.00" stroke="#000" stroke-width="1.1"/>
<line x1="311.9" y1="332.00" x2="308.7" y2="332.00" stroke="#000" stroke-width="1.1"/>
<line x1="32.7" y1="304.20" x2="35.900000000000006" y2="304.20" stroke="#000" stroke-width="1.1"/>
<line x1="311.9" y1="304.20" x2="308.7" y2="304.20" stroke="#000" stroke-width="1.1"/>
<line x1="381.38" y1="531.77" x2="649.70" y2="324.03" stroke="#ff1f1f" stroke-width="1.3"/>
<line x1="381.38" y1="534.83" x2="649.70" y2="317.91" stroke="#6fb52a" stroke-width="1.3"/>
<path d="M381.5 519.4L383.8 522.4L381.5 525.4L379.2 522.4Z" fill="#1170c8"/>
<path d="M381.5 521.3L383.8 524.3L381.5 527.3L379.2 524.3Z" fill="#1170c8"/>
<path d="M381.5 529.0L383.8 532.0L381.5 535.0L379.2 532.0Z" fill="#1170c8"/>
<path d="M381.5 530.6L383.8 533.6L381.5 536.6L379.2 533.6Z" fill="#1170c8"/>
<path d="M381.5 532.0L383.8 535.0L381.5 538.0L379.2 535.0Z" fill="#1170c8"/>
<path d="M381.5 533.4L383.8 536.4L381.5 539.4L379.2 536.4Z" fill="#1170c8"/>
<path d="M381.5 539.6L383.8 542.6L381.5 545.6L379.2 542.6Z" fill="#1170c8"/>
<path d="M381.5 540.5L383.8 543.5L381.5 546.5L379.2 543.5Z" fill="#1170c8"/>
<path d="M388.3 503.1L390.6 506.1L388.3 509.1L386.0 506.1Z" fill="#1170c8"/>
<path d="M388.3 504.5L390.6 507.5L388.3 510.5L386.0 507.5Z" fill="#1170c8"/>
<path d="M388.3 506.2L390.6 509.2L388.3 512.2L386.0 509.2Z" fill="#1170c8"/>
<path d="M388.3 513.0L390.6 516.0L388.3 519.0L386.0 516.0Z" fill="#1170c8"/>
<path d="M388.3 521.3L390.6 524.3L388.3 527.3L386.0 524.3Z" fill="#1170c8"/>
<path d="M388.3 523.1L390.6 526.1L388.3 529.1L386.0 526.1Z" fill="#1170c8"/>
<path d="M388.3 524.5L390.6 527.5L388.3 530.5L386.0 527.5Z" fill="#1170c8"/>
<path d="M388.3 526.2L390.6 529.2L388.3 532.2L386.0 529.2Z" fill="#1170c8"/>
<path d="M388.3 532.0L390.6 535.0L388.3 538.0L386.0 535.0Z" fill="#1170c8"/>
<path d="M388.3 534.1L390.6 537.1L388.3 540.1L386.0 537.1Z" fill="#1170c8"/>
<path d="M388.3 536.1L390.6 539.1L388.3 542.1L386.0 539.1Z" fill="#1170c8"/>
<path d="M388.3 548.3L390.6 551.3L388.3 554.3L386.0 551.3Z" fill="#1170c8"/>
<path d="M398.7 491.0L401.0 494.0L398.7 497.0L396.4 494.0Z" fill="#1170c8"/>
<path d="M398.7 511.1L401.0 514.1L398.7 517.1L396.4 514.1Z" fill="#1170c8"/>
<path d="M398.7 513.0L401.0 516.0L398.7 519.0L396.4 516.0Z" fill="#1170c8"/>
<path d="M398.7 514.8L401.0 517.8L398.7 520.8L396.4 517.8Z" fill="#1170c8"/>
<path d="M398.7 516.6L401.0 519.6L398.7 522.6L396.4 519.6Z" fill="#1170c8"/>
<path d="M398.7 518.3L401.0 521.3L398.7 524.3L396.4 521.3Z" fill="#1170c8"/>
<path d="M398.7 520.3L401.0 523.3L398.7 526.3L396.4 523.3Z" fill="#1170c8"/>
<path d="M398.7 522.4L401.0 525.4L398.7 528.4L396.4 525.4Z" fill="#1170c8"/>
<path d="M398.7 525.1L401.0 528.1L398.7 531.1L396.4 528.1Z" fill="#1170c8"/>
<path d="M398.7 533.4L401.0 536.4L398.7 539.4L396.4 536.4Z" fill="#1170c8"/>
<path d="M398.7 535.0L401.0 538.0L398.7 541.0L396.4 538.0Z" fill="#1170c8"/>
<path d="M398.7 536.8L401.0 539.8L398.7 542.8L396.4 539.8Z" fill="#1170c8"/>
<path d="M398.7 538.2L401.0 541.2L398.7 544.2L396.4 541.2Z" fill="#1170c8"/>
<path d="M409.0 491.9L411.3 494.9L409.0 497.9L406.7 494.9Z" fill="#1170c8"/>
<path d="M409.0 493.8L411.3 496.8L409.0 499.8L406.7 496.8Z" fill="#1170c8"/>
<path d="M409.0 496.0L411.3 499.0L409.0 502.0L406.7 499.0Z" fill="#1170c8"/>
<path d="M409.0 497.9L411.3 500.9L409.0 503.9L406.7 500.9Z" fill="#1170c8"/>
<path d="M409.0 499.7L411.3 502.7L409.0 505.7L406.7 502.7Z" fill="#1170c8"/>
<path d="M409.0 501.8L411.3 504.8L409.0 507.8L406.7 504.8Z" fill="#1170c8"/>
<path d="M409.0 503.8L411.3 506.8L409.0 509.8L406.7 506.8Z" fill="#1170c8"/>
<path d="M409.0 505.9L411.3 508.9L409.0 511.9L406.7 508.9Z" fill="#1170c8"/>
<path d="M409.0 509.7L411.3 512.7L409.0 515.7L406.7 512.7Z" fill="#1170c8"/>
<path d="M409.0 511.4L411.3 514.4L409.0 517.4L406.7 514.4Z" fill="#1170c8"/>
<path d="M409.0 513.5L411.3 516.5L409.0 519.5L406.7 516.5Z" fill="#1170c8"/>
<path d="M409.0 515.8L411.3 518.8L409.0 521.8L406.7 518.8Z" fill="#1170c8"/>
<path d="M422.7 475.8L425.0 478.8L422.7 481.8L420.4 478.8Z" fill="#1170c8"/>
<path d="M422.7 477.6L425.0 480.6L422.7 483.6L420.4 480.6Z" fill="#1170c8"/>
<path d="M422.7 479.6L425.0 482.6L422.7 485.6L420.4 482.6Z" fill="#1170c8"/>
<path d="M422.7 481.7L425.0 484.7L422.7 487.7L420.4 484.7Z" fill="#1170c8"/>
<path d="M422.7 483.8L425.0 486.8L422.7 489.8L420.4 486.8Z" fill="#1170c8"/>
<path d="M422.7 492.0L425.0 495.0L422.7 498.0L420.4 495.0Z" fill="#1170c8"/>
<path d="M422.7 493.4L425.0 496.4L422.7 499.4L420.4 496.4Z" fill="#1170c8"/>
<path d="M422.7 494.8L425.0 497.8L422.7 500.8L420.4 497.8Z" fill="#1170c8"/>
<path d="M422.7 496.4L425.0 499.4L422.7 502.4L420.4 499.4Z" fill="#1170c8"/>
<path d="M422.7 498.2L425.0 501.2L422.7 504.2L420.4 501.2Z" fill="#1170c8"/>
<path d="M422.7 499.6L425.0 502.6L422.7 505.6L420.4 502.6Z" fill="#1170c8"/>
<path d="M422.7 505.1L425.0 508.1L422.7 511.1L420.4 508.1Z" fill="#1170c8"/>
<path d="M422.7 509.9L425.0 512.9L422.7 515.9L420.4 512.9Z" fill="#1170c8"/>
<path d="M422.7 515.4L425.0 518.4L422.7 521.4L420.4 518.4Z" fill="#1170c8"/>
<path d="M439.8 463.8L442.1 466.8L439.8 469.8L437.5 466.8Z" fill="#1170c8"/>
<path d="M439.8 470.0L442.1 473.0L439.8 476.0L437.5 473.0Z" fill="#1170c8"/>
<path d="M439.8 472.1L442.1 475.1L439.8 478.1L437.5 475.1Z" fill="#1170c8"/>
<path d="M439.8 473.9L442.1 476.9L439.8 479.9L437.5 476.9Z" fill="#1170c8"/>
<path d="M439.8 482.4L442.1 485.4L439.8 488.4L437.5 485.4Z" fill="#1170c8"/>
<path d="M439.8 484.0L442.1 487.0L439.8 490.0L437.5 487.0Z" fill="#1170c8"/>
<path d="M439.8 485.8L442.1 488.8L439.8 491.8L437.5 488.8Z" fill="#1170c8"/>
<path d="M439.8 492.0L442.1 495.0L439.8 498.0L437.5 495.0Z" fill="#1170c8"/>
<path d="M439.8 493.7L442.1 496.7L439.8 499.7L437.5 496.7Z" fill="#1170c8"/>
<path d="M439.8 495.5L442.1 498.5L439.8 501.5L437.5 498.5Z" fill="#1170c8"/>
<path d="M460.6 462.4L462.9 465.4L460.6 468.4L458.3 465.4Z" fill="#1170c8"/>
<path d="M460.6 464.2L462.9 467.2L460.6 470.2L458.3 467.2Z" fill="#1170c8"/>
<path d="M460.6 465.9L462.9 468.9L460.6 471.9L458.3 468.9Z" fill="#1170c8"/>
<path d="M460.6 471.4L462.9 474.4L460.6 477.4L458.3 474.4Z" fill="#1170c8"/>
<path d="M460.6 473.0L462.9 476.0L460.6 479.0L458.3 476.0Z" fill="#1170c8"/>
<path d="M460.6 474.8L462.9 477.8L460.6 480.8L458.3 477.8Z" fill="#1170c8"/>
<path d="M460.6 476.9L462.9 479.9L460.6 482.9L458.3 479.9Z" fill="#1170c8"/>
<path d="M460.6 479.0L462.9 482.0L460.6 485.0L458.3 482.0Z" fill="#1170c8"/>
<path d="M460.6 480.7L462.9 483.7L460.6 486.7L458.3 483.7Z" fill="#1170c8"/>
<path d="M460.6 483.5L462.9 486.5L460.6 489.5L458.3 486.5Z" fill="#1170c8"/>
<path d="M460.6 490.0L462.9 493.0L460.6 496.0L458.3 493.0Z" fill="#1170c8"/>
<path d="M495.0 415.7L497.3 418.7L495.0 421.7L492.7 418.7Z" fill="#1170c8"/>
<path d="M495.0 422.7L497.3 425.7L495.0 428.7L492.7 425.7Z" fill="#1170c8"/>
<path d="M495.0 429.6L497.3 432.6L495.0 435.6L492.7 432.6Z" fill="#1170c8"/>
<path d="M495.0 434.3L497.3 437.3L495.0 440.3L492.7 437.3Z" fill="#1170c8"/>
<path d="M495.0 437.4L497.3 440.4L495.0 443.4L492.7 440.4Z" fill="#1170c8"/>
<path d="M495.0 438.5L497.3 441.5L495.0 444.5L492.7 441.5Z" fill="#1170c8"/>
<path d="M495.0 439.7L497.3 442.7L495.0 445.7L492.7 442.7Z" fill="#1170c8"/>
<path d="M495.0 441.2L497.3 444.2L495.0 447.2L492.7 444.2Z" fill="#1170c8"/>
<path d="M495.0 454.5L497.3 457.5L495.0 460.5L492.7 457.5Z" fill="#1170c8"/>
<path d="M495.0 468.5L497.3 471.5L495.0 474.5L492.7 471.5Z" fill="#1170c8"/>
<path d="M529.2 388.0L531.5 391.0L529.2 394.0L526.9 391.0Z" fill="#1170c8"/>
<path d="M529.2 390.5L531.5 393.5L529.2 396.5L526.9 393.5Z" fill="#1170c8"/>
<path d="M529.2 401.3L531.5 404.3L529.2 407.3L526.9 404.3Z" fill="#1170c8"/>
<path d="M529.2 403.4L531.5 406.4L529.2 409.4L526.9 406.4Z" fill="#1170c8"/>
<path d="M529.2 409.6L531.5 412.6L529.2 415.6L526.9 412.6Z" fill="#1170c8"/>
<path d="M529.2 412.5L531.5 415.5L529.2 418.5L526.9 415.5Z" fill="#1170c8"/>
<path d="M529.2 415.1L531.5 418.1L529.2 421.1L526.9 418.1Z" fill="#1170c8"/>
<path d="M529.2 417.8L531.5 420.8L529.2 423.8L526.9 420.8Z" fill="#1170c8"/>
<path d="M580.8 345.4L583.1 348.4L580.8 351.4L578.5 348.4Z" fill="#1170c8"/>
<path d="M580.8 351.3L583.1 354.3L580.8 357.3L578.5 354.3Z" fill="#1170c8"/>
<path d="M580.8 353.3L583.1 356.3L580.8 359.3L578.5 356.3Z" fill="#1170c8"/>
<path d="M580.8 355.3L583.1 358.3L580.8 361.3L578.5 358.3Z" fill="#1170c8"/>
<path d="M580.8 359.8L583.1 362.8L580.8 365.8L578.5 362.8Z" fill="#1170c8"/>
<path d="M580.8 364.2L583.1 367.2L580.8 370.2L578.5 367.2Z" fill="#1170c8"/>
<path d="M580.8 368.1L583.1 371.1L580.8 374.1L578.5 371.1Z" fill="#1170c8"/>
<path d="M580.8 370.5L583.1 373.5L580.8 376.5L578.5 373.5Z" fill="#1170c8"/>
<path d="M580.8 371.7L583.1 374.7L580.8 377.7L578.5 374.7Z" fill="#1170c8"/>
<path d="M580.8 394.8L583.1 397.8L580.8 400.8L578.5 397.8Z" fill="#1170c8"/>
<path d="M580.8 396.7L583.1 399.7L580.8 402.7L578.5 399.7Z" fill="#1170c8"/>
<path d="M580.8 398.7L583.1 401.7L580.8 404.7L578.5 401.7Z" fill="#1170c8"/>
<path d="M649.9 303.9L652.2 306.9L649.9 309.9L647.6 306.9Z" fill="#1170c8"/>
<path d="M649.9 312.4L652.2 315.4L649.9 318.4L647.6 315.4Z" fill="#1170c8"/>
<path d="M649.9 314.4L652.2 317.4L649.9 320.4L647.6 317.4Z" fill="#1170c8"/>
<path d="M649.9 316.4L652.2 319.4L649.9 322.4L647.6 319.4Z" fill="#1170c8"/>
<path d="M649.9 318.3L652.2 321.3L649.9 324.3L647.6 321.3Z" fill="#1170c8"/>
<path d="M649.9 329.6L652.2 332.6L649.9 335.6L647.6 332.6Z" fill="#1170c8"/>
<path d="M649.9 336.5L652.2 339.5L649.9 342.5L647.6 339.5Z" fill="#1170c8"/>
<path d="M649.9 341.4L652.2 344.4L649.9 347.4L647.6 344.4Z" fill="#1170c8"/>
<path d="M649.9 346.4L652.2 349.4L649.9 352.4L647.6 349.4Z" fill="#1170c8"/>
<path d="M649.9 350.7L652.2 353.7L649.9 356.7L647.6 353.7Z" fill="#1170c8"/>
<path d="M649.9 360.6L652.2 363.6L649.9 366.6L647.6 363.6Z" fill="#1170c8"/>
<rect x="377.6" y="304" width="278.69999999999993" height="250.29999999999995" fill="none" stroke="#111" stroke-width="1.25"/>
<line x1="391.70" y1="554.3" x2="391.70" y2="551.0999999999999" stroke="#000" stroke-width="1.1"/>
<line x1="391.70" y1="304" x2="391.70" y2="307.2" stroke="#000" stroke-width="1.1"/>
<line x1="426.10" y1="554.3" x2="426.10" y2="551.0999999999999" stroke="#000" stroke-width="1.1"/>
<line x1="426.10" y1="304" x2="426.10" y2="307.2" stroke="#000" stroke-width="1.1"/>
<line x1="460.50" y1="554.3" x2="460.50" y2="551.0999999999999" stroke="#000" stroke-width="1.1"/>
<line x1="460.50" y1="304" x2="460.50" y2="307.2" stroke="#000" stroke-width="1.1"/>
<line x1="494.90" y1="554.3" x2="494.90" y2="551.0999999999999" stroke="#000" stroke-width="1.1"/>
<line x1="494.90" y1="304" x2="494.90" y2="307.2" stroke="#000" stroke-width="1.1"/>
<line x1="529.30" y1="554.3" x2="529.30" y2="551.0999999999999" stroke="#000" stroke-width="1.1"/>
<line x1="529.30" y1="304" x2="529.30" y2="307.2" stroke="#000" stroke-width="1.1"/>
<line x1="563.70" y1="554.3" x2="563.70" y2="551.0999999999999" stroke="#000" stroke-width="1.1"/>
<line x1="563.70" y1="304" x2="563.70" y2="307.2" stroke="#000" stroke-width="1.1"/>
<line x1="598.10" y1="554.3" x2="598.10" y2="551.0999999999999" stroke="#000" stroke-width="1.1"/>
<line x1="598.10" y1="304" x2="598.10" y2="307.2" stroke="#000" stroke-width="1.1"/>
<line x1="632.50" y1="554.3" x2="632.50" y2="551.0999999999999" stroke="#000" stroke-width="1.1"/>
<line x1="632.50" y1="304" x2="632.50" y2="307.2" stroke="#000" stroke-width="1.1"/>
<line x1="377.6" y1="554.30" x2="380.8" y2="554.30" stroke="#000" stroke-width="1.1"/>
<line x1="656.3" y1="554.30" x2="653.0999999999999" y2="554.30" stroke="#000" stroke-width="1.1"/>
<line x1="377.6" y1="526.49" x2="380.8" y2="526.49" stroke="#000" stroke-width="1.1"/>
<line x1="656.3" y1="526.49" x2="653.0999999999999" y2="526.49" stroke="#000" stroke-width="1.1"/>
<line x1="377.6" y1="498.68" x2="380.8" y2="498.68" stroke="#000" stroke-width="1.1"/>
<line x1="656.3" y1="498.68" x2="653.0999999999999" y2="498.68" stroke="#000" stroke-width="1.1"/>
<line x1="377.6" y1="470.87" x2="380.8" y2="470.87" stroke="#000" stroke-width="1.1"/>
<line x1="656.3" y1="470.87" x2="653.0999999999999" y2="470.87" stroke="#000" stroke-width="1.1"/>
<line x1="377.6" y1="443.06" x2="380.8" y2="443.06" stroke="#000" stroke-width="1.1"/>
<line x1="656.3" y1="443.06" x2="653.0999999999999" y2="443.06" stroke="#000" stroke-width="1.1"/>
<line x1="377.6" y1="415.25" x2="380.8" y2="415.25" stroke="#000" stroke-width="1.1"/>
<line x1="656.3" y1="415.25" x2="653.0999999999999" y2="415.25" stroke="#000" stroke-width="1.1"/>
<line x1="377.6" y1="387.44" x2="380.8" y2="387.44" stroke="#000" stroke-width="1.1"/>
<line x1="656.3" y1="387.44" x2="653.0999999999999" y2="387.44" stroke="#000" stroke-width="1.1"/>
<line x1="377.6" y1="359.63" x2="380.8" y2="359.63" stroke="#000" stroke-width="1.1"/>
<line x1="656.3" y1="359.63" x2="653.0999999999999" y2="359.63" stroke="#000" stroke-width="1.1"/>
<line x1="377.6" y1="331.82" x2="380.8" y2="331.82" stroke="#000" stroke-width="1.1"/>
<line x1="656.3" y1="331.82" x2="653.0999999999999" y2="331.82" stroke="#000" stroke-width="1.1"/>
<line x1="377.6" y1="304.01" x2="380.8" y2="304.01" stroke="#000" stroke-width="1.1"/>
<line x1="656.3" y1="304.01" x2="653.0999999999999" y2="304.01" stroke="#000" stroke-width="1.1"/>
<g style="filter:grayscale(1)">
<text x="67.80" y="268.80" text-anchor="middle" class="t">1</text>
<text x="106.90" y="268.80" text-anchor="middle" class="t">2</text>
<text x="146.00" y="268.80" text-anchor="middle" class="t">3</text>
<text x="185.10" y="268.80" text-anchor="middle" class="t">4</text>
<text x="224.20" y="268.80" text-anchor="middle" class="t">5</text>
<text x="263.30" y="268.80" text-anchor="middle" class="t">6</text>
<text x="302.40" y="268.80" text-anchor="middle" class="t">7</text>
<text x="28.90" y="260.90" text-anchor="end" class="t">−1</text>
<text x="28.90" y="233.12" text-anchor="end" class="t">0</text>
<text x="28.90" y="205.34" text-anchor="end" class="t">1</text>
<text x="28.90" y="177.56" text-anchor="end" class="t">2</text>
<text x="28.90" y="149.78" text-anchor="end" class="t">3</text>
<text x="28.90" y="122.00" text-anchor="end" class="t">4</text>
<text x="28.90" y="94.22" text-anchor="end" class="t">5</text>
<text x="28.90" y="66.44" text-anchor="end" class="t">6</text>
<text x="28.90" y="38.66" text-anchor="end" class="t">7</text>
<text x="28.90" y="10.88" text-anchor="end" class="t">8</text>
<text x="127.4" y="280.5" class="l" textLength="76.5" lengthAdjust="spacingAndGlyphs">Actual TSD (d)</text>
<text transform="translate(11.0,183.5) rotate(-90)" x="0" y="0" class="l" textLength="94.5" lengthAdjust="spacingAndGlyphs">Predicted TSD (d)</text>
<text x="42.8" y="26.1" class="l" textLength="107" lengthAdjust="spacingAndGlyphs">Latent variables=11</text>
<text x="42.8" y="41.5" class="l" textLength="68" lengthAdjust="spacingAndGlyphs">RMSEC=0.76</text>
<text x="42.8" y="59.7" class="l" textLength="7.6" lengthAdjust="spacingAndGlyphs">R</text>
<text x="52.4" y="53.5" class="s">2</text>
<text x="57.8" y="59.7" class="l" textLength="32" lengthAdjust="spacingAndGlyphs">=0.89</text>
<text x="6.2" y="18" class="p">a</text>
<text x="392.55" y="268.75" text-anchor="middle" class="t">10</text>
<text x="427.00" y="268.75" text-anchor="middle" class="t">20</text>
<text x="461.45" y="268.75" text-anchor="middle" class="t">30</text>
<text x="495.90" y="268.75" text-anchor="middle" class="t">40</text>
<text x="530.35" y="268.75" text-anchor="middle" class="t">50</text>
<text x="564.80" y="268.75" text-anchor="middle" class="t">60</text>
<text x="599.25" y="268.75" text-anchor="middle" class="t">70</text>
<text x="633.70" y="268.75" text-anchor="middle" class="t">80</text>
<text x="376.50" y="260.85" text-anchor="end" class="t">0</text>
<text x="376.50" y="235.84" text-anchor="end" class="t">10</text>
<text x="376.50" y="210.84" text-anchor="end" class="t">20</text>
<text x="376.50" y="185.84" text-anchor="end" class="t">30</text>
<text x="376.50" y="160.83" text-anchor="end" class="t">40</text>
<text x="376.50" y="135.82" text-anchor="end" class="t">50</text>
<text x="376.50" y="110.82" text-anchor="end" class="t">60</text>
<text x="376.50" y="85.81" text-anchor="end" class="t">70</text>
<text x="376.50" y="60.81" text-anchor="end" class="t">80</text>
<text x="376.50" y="35.80" text-anchor="end" class="t">90</text>
<text x="376.50" y="10.80" text-anchor="end" class="t" textLength="16.2" lengthAdjust="spacingAndGlyphs">100</text>
<text x="475.3" y="280.5" class="l" textLength="77" lengthAdjust="spacingAndGlyphs">Actual TSD (d)</text>
<text transform="translate(351.4,183.3) rotate(-90)" x="0" y="0" class="l" textLength="94.5" lengthAdjust="spacingAndGlyphs">Predicted TSD (d)</text>
<text x="391.4" y="25.6" class="l" textLength="107" lengthAdjust="spacingAndGlyphs">Latent variables=12</text>
<text x="391.4" y="40.9" class="l" textLength="68" lengthAdjust="spacingAndGlyphs">RMSEC=4.10</text>
<text x="391.4" y="59.7" class="l" textLength="7.6" lengthAdjust="spacingAndGlyphs">R</text>
<text x="401.0" y="53.5" class="s">2</text>
<text x="406.4" y="59.7" class="l" textLength="32" lengthAdjust="spacingAndGlyphs">=0.97</text>
<text x="343.5" y="22.5" class="p">b</text>
<text x="67.70" y="566.65" text-anchor="middle" class="t">1</text>
<text x="107.00" y="566.65" text-anchor="middle" class="t">2</text>
<text x="146.30" y="566.65" text-anchor="middle" class="t">3</text>
<text x="185.60" y="566.65" text-anchor="middle" class="t">4</text>
<text x="224.90" y="566.65" text-anchor="middle" class="t">5</text>
<text x="264.20" y="566.65" text-anchor="middle" class="t">6</text>
<text x="303.50" y="566.65" text-anchor="middle" class="t">7</text>
<text x="30.70" y="558.75" text-anchor="end" class="t">−1</text>
<text x="30.70" y="530.96" text-anchor="end" class="t">0</text>
<text x="30.70" y="503.16" text-anchor="end" class="t">1</text>
<text x="30.70" y="475.37" text-anchor="end" class="t">2</text>
<text x="30.70" y="447.57" text-anchor="end" class="t">3</text>
<text x="30.70" y="419.78" text-anchor="end" class="t">4</text>
<text x="30.70" y="391.99" text-anchor="end" class="t">5</text>
<text x="30.70" y="364.19" text-anchor="end" class="t">6</text>
<text x="30.70" y="336.40" text-anchor="end" class="t">7</text>
<text x="30.70" y="308.60" text-anchor="end" class="t">8</text>
<text x="130.0" y="578.5" class="l" textLength="77" lengthAdjust="spacingAndGlyphs">Actual TSD (d)</text>
<text transform="translate(12.0,481.5) rotate(-90)" x="0" y="0" class="l" textLength="95" lengthAdjust="spacingAndGlyphs">Predicted TSD (d)</text>
<text x="42.6" y="323.8" class="l" textLength="107" lengthAdjust="spacingAndGlyphs">Latent variables=11</text>
<text x="42.6" y="339.3" class="l" textLength="68" lengthAdjust="spacingAndGlyphs">RMSEC=0.67</text>
<text x="42.6" y="357.7" class="l" textLength="7.6" lengthAdjust="spacingAndGlyphs">R</text>
<text x="52.2" y="351.5" class="s">2</text>
<text x="57.6" y="357.7" class="l" textLength="32" lengthAdjust="spacingAndGlyphs">=0.91</text>
<text x="5.0" y="313.2" class="p">c</text>
<text x="391.70" y="566.60" text-anchor="middle" class="t">10</text>
<text x="426.10" y="566.60" text-anchor="middle" class="t">20</text>
<text x="460.50" y="566.60" text-anchor="middle" class="t">30</text>
<text x="494.90" y="566.60" text-anchor="middle" class="t">40</text>
<text x="529.30" y="566.60" text-anchor="middle" class="t">50</text>
<text x="563.70" y="566.60" text-anchor="middle" class="t">60</text>
<text x="598.10" y="566.60" text-anchor="middle" class="t">70</text>
<text x="632.50" y="566.60" text-anchor="middle" class="t">80</text>
<text x="375.60" y="558.70" text-anchor="end" class="t">0</text>
<text x="375.60" y="530.89" text-anchor="end" class="t">10</text>
<text x="375.60" y="503.08" text-anchor="end" class="t">20</text>
<text x="375.60" y="475.27" text-anchor="end" class="t">30</text>
<text x="375.60" y="447.46" text-anchor="end" class="t">40</text>
<text x="375.60" y="419.65" text-anchor="end" class="t">50</text>
<text x="375.60" y="391.84" text-anchor="end" class="t">60</text>
<text x="375.60" y="364.03" text-anchor="end" class="t">70</text>
<text x="375.60" y="336.22" text-anchor="end" class="t">80</text>
<text x="375.60" y="308.41" text-anchor="end" class="t">90</text>
<text x="474.4" y="578.5" class="l" textLength="77" lengthAdjust="spacingAndGlyphs">Actual TSD (d)</text>
<text transform="translate(357.0,481.5) rotate(-90)" x="0" y="0" class="l" textLength="95" lengthAdjust="spacingAndGlyphs">Predicted TSD (d)</text>
<text x="389" y="322.1" class="l" textLength="107" lengthAdjust="spacingAndGlyphs">Latent variables=10</text>
<text x="389" y="337.3" class="l" textLength="68" lengthAdjust="spacingAndGlyphs">RMSEC=4.96</text>
<text x="389" y="355.9" class="l" textLength="7.6" lengthAdjust="spacingAndGlyphs">R</text>
<text x="398.6" y="349.7" class="s">2</text>
<text x="404" y="355.9" class="l" textLength="32" lengthAdjust="spacingAndGlyphs">=0.96</text>
<text x="343.8" y="318.3" class="p">d</text>
</g>
</svg></body></html>
